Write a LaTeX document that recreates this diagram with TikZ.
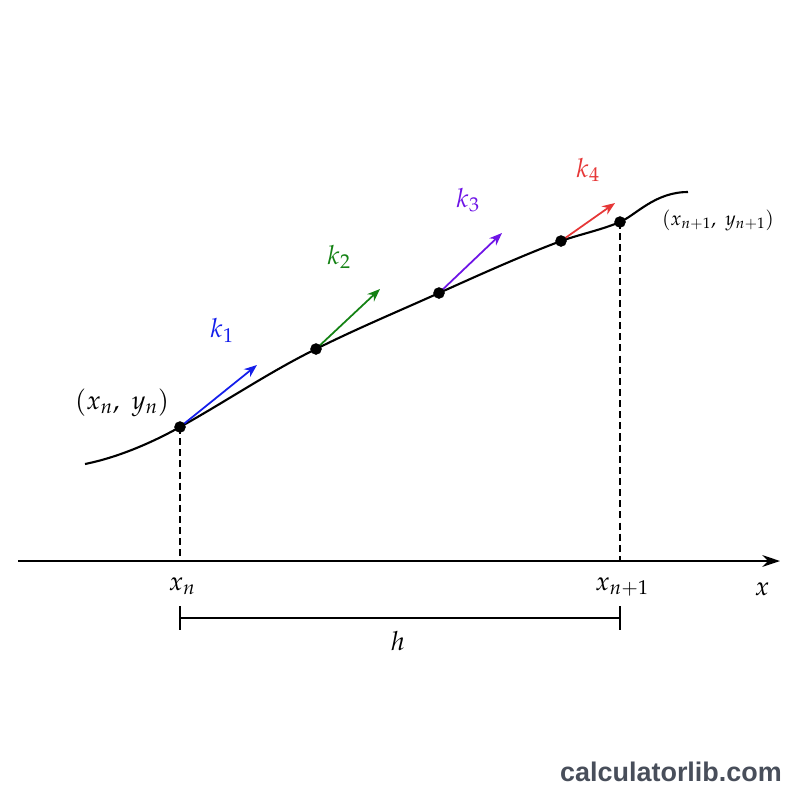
\documentclass[tikz,border=0pt]{standalone}
\usepackage{mathpazo}
\usepackage{fontspec}
\newfontfamily\marksans{Liberation Sans}
\usetikzlibrary{arrows.meta}
\definecolor{kone}{RGB}{20,30,235}
\definecolor{ktwo}{RGB}{20,130,20}
\definecolor{kthree}{RGB}{110,20,230}
\definecolor{kfour}{RGB}{230,55,55}
\definecolor{markgray}{RGB}{72,78,90}
\begin{document}
\begin{tikzpicture}[x=0.03cm,y=-0.03cm,
	lbl/.style={font=\fontsize{22.5}{26}\selectfont},
	slope/.style={line width=1.5pt,-{Stealth[length=11pt,width=8.5pt]}},
	drop/.style={line width=1.1pt,dash pattern=on 6pt off 3.5pt}]
	\useasboundingbox (0,0) rectangle (800,800);
	% The x axis
	\coordinate (L) at (18,561);
	\coordinate (R) at (780,561);
	\draw[line width=1.8pt,-{Stealth[length=15pt,width=10pt]}] (L) -- (R);
	\node[lbl] (xlab) at (762,589) {$x$};
	
	% Points on the curve
	\coordinate (P0) at (180,427); % (x_n, y_n)
	\coordinate (P1) at (316,349);
	\coordinate (P2) at (439,293);
	\coordinate (P3) at (561,241);
	\coordinate (P4) at (620,222); % (x_{n+1}, y_{n+1})
	
	% Feet on the axis
	\coordinate (A) at (180,561);
	\coordinate (B) at (620,561);
	
	% Solution curve
	\draw[line width=1.8pt] (85,464) .. controls (120,457) and (155,441) .. (P0)
		.. controls (225,402) and (271,371) .. (P1)
		.. controls (356,329) and (399,311) .. (P2)
		.. controls (479,275) and (521,256) .. (P3)
		.. controls (581,234) and (601,230) .. (P4)
		.. controls (636,215) and (655,192) .. (688,192);
	
	% Dashed drops to the axis
	\draw[drop] (P0) -- (A);
	\draw[drop] (P4) -- (B);
	
	% Slope arrows
	\draw[slope,kone] (P0) -- (257,365);
	\draw[slope,ktwo] (P1) -- (380,289);
	\draw[slope,kthree] (P2) -- (502,233);
	\draw[slope,kfour] (P3) -- (615,203);
	\node[lbl,kone] (k1) at (222,330) {$k_1$};
	\node[lbl,ktwo] (k2) at (339,257) {$k_2$};
	\node[lbl,kthree] (k3) at (468,200) {$k_3$};
	\node[lbl,kfour] (k4) at (588,170) {$k_4$};
	
	% Dots
	\foreach \p in {P0,P1,P2,P3,P4}
		\filldraw[black] (\p) circle (5.5);
	
	% Point labels
	\node[lbl] (p0lab) at (122,403) {$(x_n,\ y_n)$};
	\node[lbl,font=\fontsize{17}{20}\selectfont] (p4lab) at (718,220) {$(x_{n+1},\ y_{n+1})$};
	\node[lbl] (xn) at (182,586) {$x_n$};
	\node[lbl] (xn1) at (622,587) {$x_{n+1}$};
	
	% Step width h
	\coordinate (H0) at (180,618);
	\coordinate (H1) at (620,618);
	\draw[line width=1.4pt] (H0) -- (H1);
	\draw[line width=1.4pt] ([yshift=-10]H0) -- ([yshift=10]H0);
	\draw[line width=1.4pt] ([yshift=-10]H1) -- ([yshift=10]H1);
	\node[lbl] (hlab) at (398,641) {$h$};
	
	% Watermark
	\node[markgray,font=\marksans\bfseries\fontsize{23}{27}\selectfont] (mark) at (671,772) {calculatorlib.com};
\end{tikzpicture}
\end{document}
